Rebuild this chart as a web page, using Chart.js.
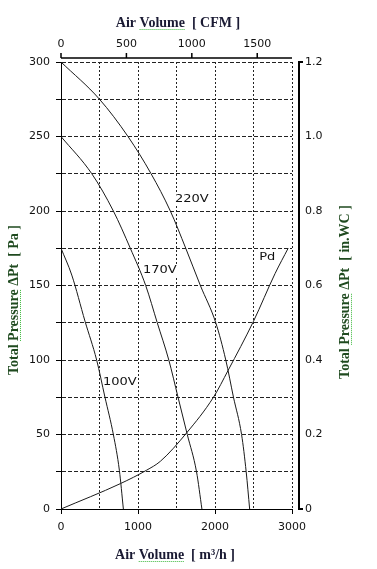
<!DOCTYPE html>
<html>
<head>
<meta charset="utf-8">
<script src="https://cdn.jsdelivr.net/npm/chart.js@4.4.0/dist/chart.umd.min.js"></script>
<style>
  html, body { margin: 0; padding: 0; background: #fff; }
  canvas { display: block; }
</style>
</head>
<body>
<canvas id="fanCurve" width="377" height="569"></canvas>
<script>
// curves: air volume in m3/h, total pressure in Pa
const flow220 = [0, 500, 870, 1170, 1420, 1620, 1810, 2010, 2140, 2240, 2345, 2405, 2450];
const pres220 = [300, 275, 250, 225, 200, 175, 150, 125, 100, 75, 50, 25, 0];
const flow170 = [0, 400, 680, 900, 1100, 1250, 1400, 1520, 1640, 1760, 1830];
const pres170 = [250, 225, 200, 175, 150, 125, 100, 75, 50, 25, 0];
const flow100 = [0, 140, 312, 463, 571, 680, 758, 810];
const pres100 = [175, 157, 126, 100, 75, 50, 26, 0];
const flowPd = [0, 770, 1110, 1290, 1630, 1980, 2170, 2500, 2780, 2950];
const presPd = [0, 17, 26, 32, 51, 75, 93, 126, 158, 175];

// curve names and where their labels sit (m3/h, Pa)
const curveNames = ['220V', '170V', '100V', 'Pd'];
const labelFlow = [1480, 1065, 545, 2575];
const labelPres = [208, 160, 85, 169];

// tick labels
const m3hTicks = [0, 500, 1000, 1500, 2000, 2500, 3000];
const paTicks = [0, 25, 50, 75, 100, 125, 150, 175, 200, 225, 250, 275, 300];
const cfmTicks = [0, 500, 1000, 1500];
const inwcTicks = [0, 0.2, 0.4, 0.6, 0.8, 1.0, 1.2];
const M3H_PER_CFM = 1.699;

function pts(xs, ys) {
    return xs.map((x, i) => ({ x: x, y: ys[i] }));
}

function fixedTicks(list) {
    return s => { s.ticks = list.map(v => ({ value: v })); };
}

const tickFont = { family: 'DejaVu Sans', size: 11 };
const titleFont = 'bold 14px "Liberation Serif"';

function line(data) {
    return {
        data: data, borderColor: '#1a1a1a', borderWidth: 1, pointRadius: 0,
        fill: false, cubicInterpolationMode: 'monotone'
    };
}

function wideText(ctx, text, x, y, sx) {
    ctx.save();
    ctx.translate(x, y);
    ctx.scale(sx, 1);
    ctx.fillText(text, 0, 0);
    ctx.restore();
}

// title centred at (0,0) in current transform, with a green squiggle under one word
function title(ctx, before, word, after, color) {
    const full = before + word + after;
    const w = ctx.measureText(full).width;
    const x0 = -w / 2;
    ctx.fillStyle = color;
    ctx.textAlign = 'left';
    ctx.textBaseline = 'alphabetic';
    ctx.fillText(full, x0, 5);
    const wx = x0 + ctx.measureText(before).width;
    const ww = ctx.measureText(word).width;
    ctx.save();
    ctx.strokeStyle = '#3cb83c';
    ctx.lineWidth = 1;
    ctx.setLineDash([1, 1]);
    ctx.beginPath();
    ctx.moveTo(wx, 7.5);
    ctx.lineTo(wx + ww, 7.5);
    ctx.stroke();
    ctx.restore();
}

const decorations = {
    id: 'decorations',
    beforeDatasetsDraw(chart) {
        const { ctx, scales: { x, y } } = chart;
        ctx.save();
        ctx.font = '10px "DejaVu Sans"';
        ctx.textBaseline = 'middle';
        curveNames.forEach((name, i) => {
            const px = x.getPixelForValue(labelFlow[i]);
            const py = y.getPixelForValue(labelPres[i]);
            const w = ctx.measureText(name).width * 1.3;
            ctx.fillStyle = '#fff';
            ctx.fillRect(px - 1, py - 6, w + 2, 12);
            ctx.fillStyle = '#111';
            wideText(ctx, name, px, py, 1.3);
        });
        ctx.restore();
    },
    afterDraw(chart) {
        const { ctx, chartArea, scales: { x2, y2 } } = chart;
        ctx.save();
        ctx.strokeStyle = '#000';

        // top CFM axis line, sitting just above the plot
        const topY = chartArea.top - 4;
        ctx.lineWidth = 1.5;
        ctx.beginPath();
        ctx.moveTo(chartArea.left, topY);
        ctx.lineTo(chartArea.right, topY);
        cfmTicks.forEach(v => {
            const px = x2.getPixelForValue(v);
            ctx.moveTo(px, topY);
            ctx.lineTo(px, topY - 5);
        });
        ctx.stroke();

        // right in.WC axis line with end ticks
        const rx = chartArea.right + 7;
        const y0 = y2.getPixelForValue(0);
        const y1 = y2.getPixelForValue(1.2);
        ctx.lineWidth = 2;
        ctx.beginPath();
        ctx.moveTo(rx + 4, y1);
        ctx.lineTo(rx, y1);
        ctx.lineTo(rx, y0);
        ctx.lineTo(rx + 4, y0);
        ctx.stroke();

        // axis titles
        ctx.font = titleFont;
        ctx.save();
        ctx.translate(178, 22);
        title(ctx, 'Air ', 'Volume', '  [ CFM ]', '#1a1a33');
        ctx.restore();
        ctx.save();
        ctx.translate(175, 554);
        title(ctx, 'Air ', 'Volume', '  [ m\u00b3/h ]', '#1a1a33');
        ctx.restore();
        ctx.save();
        ctx.translate(13, 300);
        ctx.rotate(-Math.PI / 2);
        title(ctx, 'Total ', 'Pressure', ' \u0394Pt  [ Pa ]', '#1f4a1f');
        ctx.restore();
        ctx.save();
        ctx.translate(344, 292);
        ctx.rotate(-Math.PI / 2);
        title(ctx, 'Total ', 'Pressure', ' \u0394Pt  [ in.WC ]', '#1f4a1f');
        ctx.restore();

        ctx.restore();
    }
};

const ctx = document.getElementById('fanCurve').getContext('2d');
new Chart(ctx, {
    type: 'line',
    data: {
        datasets: [
            line(pts(flow220, pres220)),
            line(pts(flow170, pres170)),
            line(pts(flow100, pres100)),
            line(pts(flowPd, presPd))
        ]
    },
    options: {
        responsive: false,
        animation: false,
        layout: { padding: 0 },
        plugins: { legend: { display: false }, tooltip: { enabled: false } },
        scales: {
            x: {
                type: 'linear', position: 'bottom', min: 0, max: 3000,
                afterBuildTicks: fixedTicks(m3hTicks),
                ticks: {
                    autoSkip: false, maxRotation: 0, padding: 7,
                    color: '#111', font: tickFont,
                    callback: v => (v % 1000 === 0 ? String(v) : '')
                },
                grid: {
                    color: '#222', lineWidth: 1, tickLength: 5,
                    tickColor: c => (c.tick && c.tick.value % 1000 === 0 ? '#000' : 'rgba(0,0,0,0)')
                },
                border: { color: '#000', width: 1, dash: [2, 2] },
                afterFit: s => { s.height = 60; }
            },
            y: {
                type: 'linear', position: 'left', min: 0, max: 300,
                afterBuildTicks: fixedTicks(paTicks),
                ticks: {
                    autoSkip: false, padding: 6,
                    color: '#111', font: tickFont,
                    callback: v => (v % 50 === 0 ? String(v) : '')
                },
                grid: { color: '#222', lineWidth: 1, tickLength: 5, tickColor: '#000' },
                border: { color: '#000', width: 1, dash: [4, 2] },
                afterFit: s => { s.width = 61; }
            },
            x2: {
                type: 'linear', position: 'top', min: 0, max: 3000 / M3H_PER_CFM,
                afterBuildTicks: fixedTicks(cfmTicks),
                ticks: {
                    autoSkip: false, maxRotation: 0, padding: 11,
                    color: '#111', font: tickFont,
                    callback: v => String(v)
                },
                grid: { display: false, drawTicks: false },
                border: { display: false },
                afterFit: s => { s.height = 62; }
            },
            y2: {
                type: 'linear', position: 'right', min: 0, max: 1.2,
                afterBuildTicks: fixedTicks(inwcTicks),
                ticks: {
                    autoSkip: false, padding: 13,
                    color: '#111', font: tickFont,
                    callback: v => (v === 0 ? '0' : v.toFixed(1))
                },
                grid: { display: false, drawTicks: false },
                border: { display: false },
                afterFit: s => { s.width = 85; }
            }
        }
    },
    plugins: [decorations]
});
</script>
</body>
</html>
